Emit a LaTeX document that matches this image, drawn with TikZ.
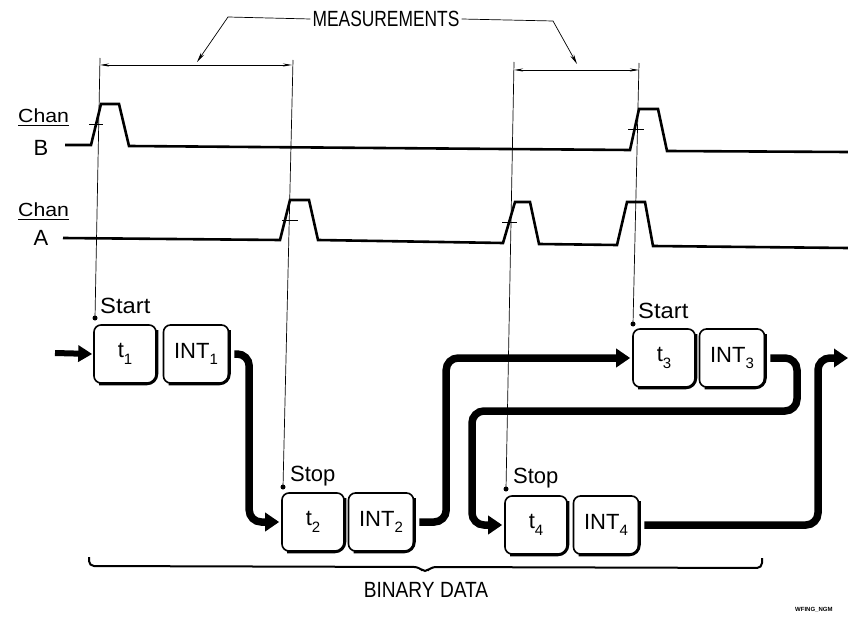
\documentclass[tikz,border=0pt]{standalone}
\usepackage{fontspec}
\setmainfont{Liberation Sans}
\usetikzlibrary{arrows.meta,calc}
\newcommand\lab[1]{\fontsize{#1}{#1}\selectfont}
\newcommand\subs[1]{\raisebox{-0.3em}{\fontsize{15}{15}\selectfont #1}}
\begin{document}
\begin{tikzpicture}[x=1pt,y=-1pt,
  sig/.style={line width=2.6pt, line join=miter},
  thinl/.style={line width=0.7pt},
  flow/.style={line width=7.5pt, rounded corners=12pt, -{Triangle[length=14pt,width=18pt]}},
  reg/.style={draw, line width=1.6pt, rounded corners=7pt, minimum height=58pt, inner sep=0pt, font=\lab{22}},
  tbox/.style={reg, minimum width=62pt},
  ibox/.style={reg, minimum width=65pt},
  txt/.style={inner sep=0pt, font=\lab{22}},
  dotm/.style={circle, fill, inner sep=0pt, minimum size=5pt},
  dimarr/.style={thinl, {Stealth[length=9pt,width=3pt]}-{Stealth[length=9pt,width=3pt]}},
  leader/.style={thinl, -{Stealth[length=10pt,width=4pt]}},
  shadowl/.style={line width=3pt, rounded corners=10pt},
]
\useasboundingbox (0,0) rectangle (848,620);

% ---------- MEASUREMENTS ----------
\node[txt] (meas) at (386,19) {\scalebox{0.79}[1]{MEASUREMENTS}};
\coordinate (l1) at (228,17);
\coordinate (l2) at (553,21);
\coordinate (d1) at (197,62);
\coordinate (d2) at (577,64);
\draw[leader] ([xshift=-2pt]meas.west) -- (l1) -- (d1);
\draw[leader] ([xshift=2pt]meas.east) -- (l2) -- (d2);

% dimension lines
\coordinate (m1a) at (100,65);
\coordinate (m1b) at (292,65);
\coordinate (m2a) at (514,70);
\coordinate (m2b) at (639,70);
\draw[dimarr] (m1a) -- (m1b);
\draw[dimarr] (m2a) -- (m2b);

% ---------- signals ----------
\node[txt, anchor=base west, font=\lab{19}] (chanB) at (18,123) {\scalebox{1.12}[1]{Chan}};
\draw[line width=1pt] ([yshift=-3pt]chanB.base west) -- ([yshift=-3pt]chanB.base east);
\node[txt] (labB) at (41,148) {B};
\node[txt, anchor=base west, font=\lab{19}] (chanA) at (18,217) {\scalebox{1.12}[1]{Chan}};
\draw[line width=1pt] ([yshift=-3pt]chanA.base west) -- ([yshift=-3pt]chanA.base east);
\node[txt] (labA) at (41,238) {A};

\draw[sig] (65,145) -- (91,145) -- (101,104) -- (119,104) -- (129,146) -- (630,150)
  -- (639,109) -- (658,109) -- (667,151) -- (848,152);
\draw[sig] (63,238) -- (280,240) -- (290,200) -- (309,200) -- (318,240) -- (503,243)
  -- (515,202) -- (530,202) -- (539,244) -- (617,245) -- (627,202) -- (645,202)
  -- (653,246) -- (848,248);
% threshold ticks
\draw[line width=1pt] (89,125) -- (103,125);
\draw[line width=1pt] (628,130) -- (644,130);
\draw[line width=1pt] (282,221) -- (298,221);
\draw[line width=1pt] (502,223) -- (517,223);

% ---------- registers ----------
\node[tbox] (t1) at (125,354) {t\subs{1}};
\node[ibox] (i1) at (196,354) {INT\subs{1}};
\node[tbox] (t2) at (313,522) {t\subs{2}};
\node[ibox] (i2) at (381,522) {INT\subs{2}};
\node[tbox] (t3) at (664,358) {t\subs{3}};
\node[ibox] (i3) at (732,358) {INT\subs{3}};
\node[tbox] (t4) at (536,525) {t\subs{4}};
\node[ibox] (i4) at (606,525) {INT\subs{4}};
\foreach \b in {t1,i1,t2,i2,t3,i3,t4,i4}{
  \draw[shadowl] ([yshift=-6pt]\b.north east) -- (\b.south east) -- ([xshift=6pt]\b.south west);
}

% Start/Stop markers
\node[dotm] (s1) at (95,318) {};
\node[dotm] (s2) at (283,487) {};
\node[dotm] (s3) at (633,324) {};
\node[dotm] (s4) at (506,489) {};
\coordinate (e1) at (100,58);
\coordinate (e2) at (293,60);
\coordinate (e3) at (639,63);
\coordinate (e4) at (514,62);
\draw[thinl] (e1) -- (s1.center);
\draw[thinl] (e2) -- (s2.center);
\draw[thinl] (e3) -- (s3.center);
\draw[thinl] (e4) -- (s4.center);
\node[txt, anchor=west] (st1) at (100,306) {\scalebox{1.08}[1]{Start}};
\node[txt, anchor=west] (sp2) at (290,476) {Stop};
\node[txt, anchor=west] (st3) at (638,311) {\scalebox{1.08}[1]{Start}};
\node[txt, anchor=west] (sp4) at (513,478) {Stop};

% ---------- data flow ----------
\coordinate (in) at (55,353);
\draw[line width=6pt, -{Triangle[length=14pt,width=16pt]}] (in) -- ([xshift=-1pt]t1.west);
\draw[flow] ([xshift=5pt]i1.east) -| ([xshift=-32pt]t2.west) -- ([xshift=-2pt]t2.west);
\draw[flow] ([xshift=5pt]i2.east) -| ([xshift=-186pt]t3.west) -- ([xshift=-2pt]t3.west);
\coordinate (r3) at (797,411);
\coordinate (l4) at (472,525);
\draw[flow] ([xshift=5pt]i3.east) -| (r3) -| (l4) -- ([xshift=-2pt]t4.west);
\coordinate (out) at (848,358);
\coordinate (r4) at (818,358);
\draw[flow] ([xshift=5pt]i4.east) -| (r4) -- (out);

% ---------- brace ----------
\coordinate (bl) at (89,557);
\coordinate (br) at (762,558);
\coordinate (bt) at (425,573);
\draw[line width=2pt, rounded corners=5pt] (bl) -- (89,566) -- (419,567) -- (bt) -- (431,567) -- (762,568) -- (br);
\node[txt] (bin) at (426,590) {\scalebox{0.87}[1]{BINARY DATA}};
\node[inner sep=0pt, anchor=west, font=\lab{6}\bfseries] (wf) at (795,610) {WFING\_NGM};
\end{tikzpicture}
\end{document}
